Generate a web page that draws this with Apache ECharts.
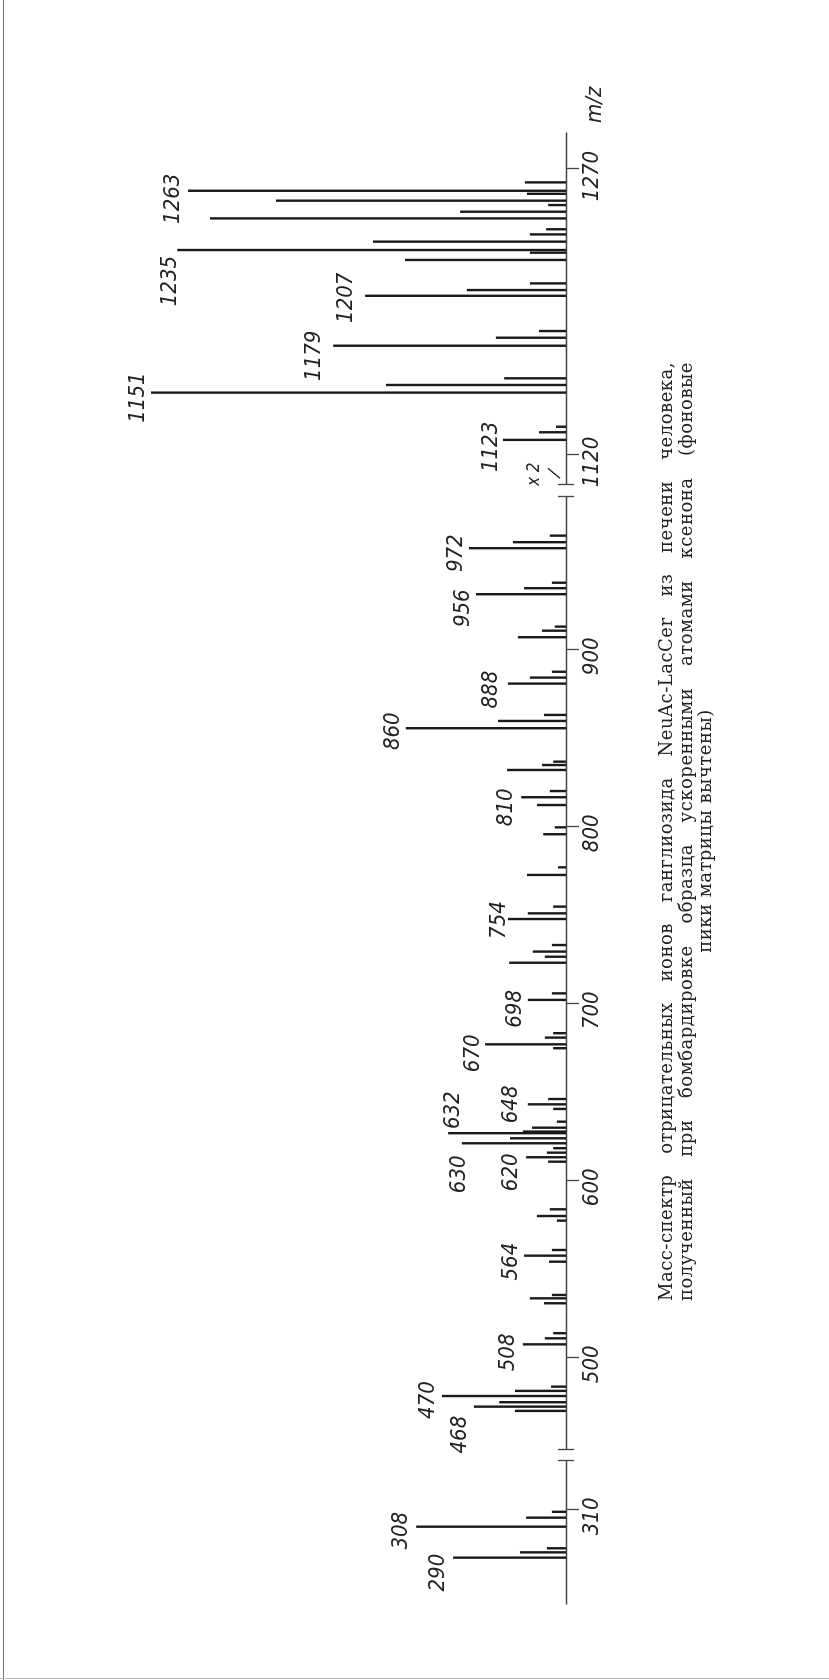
<!DOCTYPE html>
<html>
<head>
<meta charset="utf-8">
<script src="https://cdn.jsdelivr.net/npm/echarts@6/dist/echarts.min.js"></script>
<style>
    html, body { margin: 0; padding: 0; background: #fff; overflow: hidden; width: 829px; height: 1680px; }
    /* the figure is laid out lying on its side, then turned upright */
    #page { position: absolute; left: 0; top: 0; width: 1680px; height: 829px; transform-origin: 0 0; transform: translate(0, 1680px) rotate(-90deg); }
    #chart { position: absolute; left: 0; top: 0; width: 1680px; height: 829px; }
    .cap { position: absolute; font-family: "DejaVu Serif", "Liberation Serif", serif; font-size: 18px; letter-spacing: 0.5px; line-height: 20px; color: #222; white-space: nowrap; }
    .just { text-align: justify; text-align-last: justify; }
    #frameL { position: absolute; left: 3px; top: 0; width: 1px; height: 1680px; background: #777; }
    #frameB { position: absolute; left: 0; top: 1678px; width: 829px; height: 1px; background: #bbb; }
</style>
</head>
<body>
<div id="frameL"></div>
<div id="frameB"></div>
<div id="page">
    <div id="chart"></div>
    <div class="cap just" style="left:379px; top:656px; width:939px;">Масс-спектр отрицательных ионов ганглиозида NeuAc-LacCer из печени человека,</div>
    <div class="cap just" style="left:379px; top:676px; width:939px;">полученный при бомбардировке образца ускоренными атомами ксенона (фоновые</div>
    <div class="cap" style="left:649px; top:695px; width:400px; text-align:center;">пики матрицы вычтены)</div>
</div>
<script>
// m/z positions as read against the drawn axis, intensities in % of the 1151 peak
var mzA  = [282.7, 285.7, 288.0, 300.2, 305.3, 308.6];
var intA = [27.2, 11.1, 4.6, 36.1, 9.6, 3.4];

var mzB  = [469.7, 472.1, 474.6, 478.1, 481.0, 483.4, 507.3, 510.7, 513.6, 530.5, 533.3, 535.2,
            554.0, 557.4, 560.6, 577.2, 579.8, 583.6, 610.5, 613.0, 615.6, 618.1, 620.9, 623.7,
            626.6, 627.5, 629.7, 633.1, 640.3, 642.9, 645.9, 674.6, 676.8, 680.6, 683.1, 701.9,
            705.6, 722.9, 726.3, 729.2, 732.9, 747.6, 750.8, 754.6, 772.5, 776.8, 795.5, 799.4,
            812.0, 816.4, 819.9, 831.8, 834.6, 836.5, 855.4, 859.5, 862.9, 880.6, 884.0, 887.3,
            906.8, 910.5, 912.8, 931.1, 934.5, 937.6, 957.1, 960.5, 964.2];
var intB = [12.3, 22.2, 16.1, 29.9, 12.3, 3.6, 10.4, 5.1, 3.1, 5.3, 8.7, 3.4,
            4.1, 10.1, 3.4, 2.2, 7.0, 3.9, 4.3, 9.6, 4.6, 3.1, 25.1, 13.5,
            28.4, 10.4, 8.2, 2.2, 3.1, 9.2, 4.3, 3.1, 19.5, 5.1, 3.1, 9.2,
            3.4, 13.7, 5.1, 8.0, 3.4, 14.0, 9.2, 3.1, 9.4, 1.9, 5.5, 2.7,
            7.0, 10.8, 3.9, 14.2, 5.8, 3.1, 38.6, 16.4, 5.3, 14.0, 8.7, 3.4,
            11.6, 5.8, 2.7, 21.7, 10.1, 3.4, 23.4, 12.8, 3.9];

var mzC  = [1127.9, 1131.9, 1134.8, 1152.7, 1156.7, 1160.2, 1177.3, 1181.5, 1185.0, 1203.5,
            1206.5, 1210.0, 1222.3, 1226.1, 1227.5, 1231.9, 1235.7, 1238.4, 1244.1, 1247.6,
            1251.1, 1253.4, 1257.0, 1258.6, 1263.0];
var intC = [15.2, 6.5, 2.4, 100, 43.4, 14.9, 56.1, 16.9, 6.5, 48.4,
            23.9, 8.7, 38.8, 8.7, 93.7, 46.5, 8.7, 4.8, 85.8, 25.5,
            4.3, 69.9, 9.4, 91.1, 9.9];

var tickA = [310];
var tickB = [500, 600, 700, 800, 900];
var tickC = [1120, 1270];

var lblMz   = [282.7, 300.2, 472.1, 478.1, 507.3, 557.4, 613.0, 620.9, 626.6, 642.9, 676.8, 701.9,
               747.6, 816.4, 855.4, 880.6, 931.1, 957.1, 1127.9, 1152.7, 1177.3, 1203.5, 1227.5, 1258.6];
var lblText = ['290', '308', '468', '470', '508', '564', '620', '630', '632', '648', '670', '698',
               '754', '810', '860', '888', '956', '972', '1123', '1151', '1179', '1207', '1235', '1263'];

// label nudges: [shift along the axis, gap above the peak], px
var nudge = {
    '290': [-15, 8], '308': [-4, 8], '468': [-28, 7], '470': [-4, 7], '508': [-8, 8],
    '564': [-6, 6], '620': [-15, 8], '630': [-31, -4], '632': [23, -12], '648': [0, 10],
    '670': [-9, 5], '698': [-9, 6], '754': [-1, 2], '810': [-10, 8], '860': [-3, 6],
    '888': [-6, 10], '956': [-14, 6], '972': [-5, 6], '1123': [-7, 5], '1151': [-5, 6],
    '1179': [-10, 12], '1207': [-2, 12], '1235': [-31, 0], '1263': [-8, 8]
};

var NUM_FONT = '"Liberation Sans Narrow", "DejaVu Sans Condensed", "Liberation Sans", sans-serif';
var INK = '#1a1a1a';
var AXIS = '#444';

var segs = [
    { mz: mzA, val: intA, min: 256.5, max: 337.5, ticks: tickA, left: 76, width: 143.3, caps: [337.5] },
    { mz: mzB, val: intB, min: 448.0, max: 986.2, ticks: tickB, left: 230.7, width: 952.6, caps: [448.0, 986.2] },
    { mz: mzC, val: intC, min: 1104.6, max: 1288.9, ticks: tickC, left: 1195.7, width: 351.3, caps: [1104.6] }
];

function peaks(mz, val) {
    return mz.map(function(m, i) {
        var item = { value: [m, val[i]] };
        var k = lblMz.indexOf(m);
        if (k >= 0) {
            var n = nudge[lblText[k]];
            item.label = { show: true, formatter: lblText[k], offset: [n[0], -(n[1] - 4)] };
        }
        return item;
    });
}

var grids = [], xAxes = [], yAxes = [], series = [];
segs.forEach(function(s, i) {
    grids.push({ left: s.left, width: s.width, top: 151, height: 415 });
    xAxes.push({
        type: 'value', gridIndex: i, min: s.min, max: s.max, position: 'bottom',
        axisLine: { show: true, lineStyle: { color: AXIS, width: 1.3 } },
        axisTick: { show: true, customValues: s.ticks, length: 13, lineStyle: { color: AXIS, width: 1.3 } },
        axisLabel: { show: true, customValues: s.ticks, margin: 15, padding: [0, 14, 0, 0],
            formatter: function(v) { return String(v); },
            fontStyle: 'italic', fontSize: 22, fontFamily: NUM_FONT, color: '#222' },
        splitLine: { show: false },
        name: i === 2 ? 'm/z' : '', nameLocation: 'end', nameGap: 10,
        nameTextStyle: { fontStyle: 'italic', fontSize: 22, fontFamily: NUM_FONT, color: '#222',
            align: 'left', verticalAlign: 'top', padding: [18, 0, 0, 0] }
    });
    // break caps: short strokes across the axis ends
    [false, true].forEach(function(inside) {
        xAxes.push({
            type: 'value', gridIndex: i, min: s.min, max: s.max, position: 'bottom',
            axisLine: { show: false }, axisLabel: { show: false }, splitLine: { show: false },
            axisTick: { show: true, inside: inside, customValues: s.caps, length: 8, lineStyle: { color: AXIS, width: 1.3 } }
        });
    });
    yAxes.push({ type: 'value', gridIndex: i, min: 0, max: 100, show: false });
    series.push({
        type: 'bar', xAxisIndex: 3 * i, yAxisIndex: i, barWidth: 2.4, silent: true,
        itemStyle: { color: INK },
        label: { show: false, position: 'top', distance: 0, fontStyle: 'italic', fontSize: 22,
            fontFamily: NUM_FONT, color: '#222' },
        data: peaks(s.mz, s.val)
    });
});

var chart = echarts.init(document.getElementById('chart'), null, { renderer: 'canvas' });
chart.setOption({
    animation: false,
    backgroundColor: 'transparent',
    grid: grids, xAxis: xAxes, yAxis: yAxes, series: series
});

// "x 2" marker just past the upper break
var p = chart.convertToPixel({ xAxisIndex: 6, yAxisIndex: 2 }, [segs[2].min, 0]);
chart.setOption({
    graphic: [
        { type: 'text', x: p[0] + 10, y: p[1] - 31,
          style: { text: 'x 2', fill: '#222', font: 'italic 17px ' + NUM_FONT, align: 'center', verticalAlign: 'middle' } },
        { type: 'line', shape: { x1: p[0] + 6, y1: p[1] - 6, x2: p[0] + 16, y2: p[1] - 18 },
          style: { stroke: '#222', lineWidth: 1.2 } }
    ]
});
</script>
</body>
</html>
